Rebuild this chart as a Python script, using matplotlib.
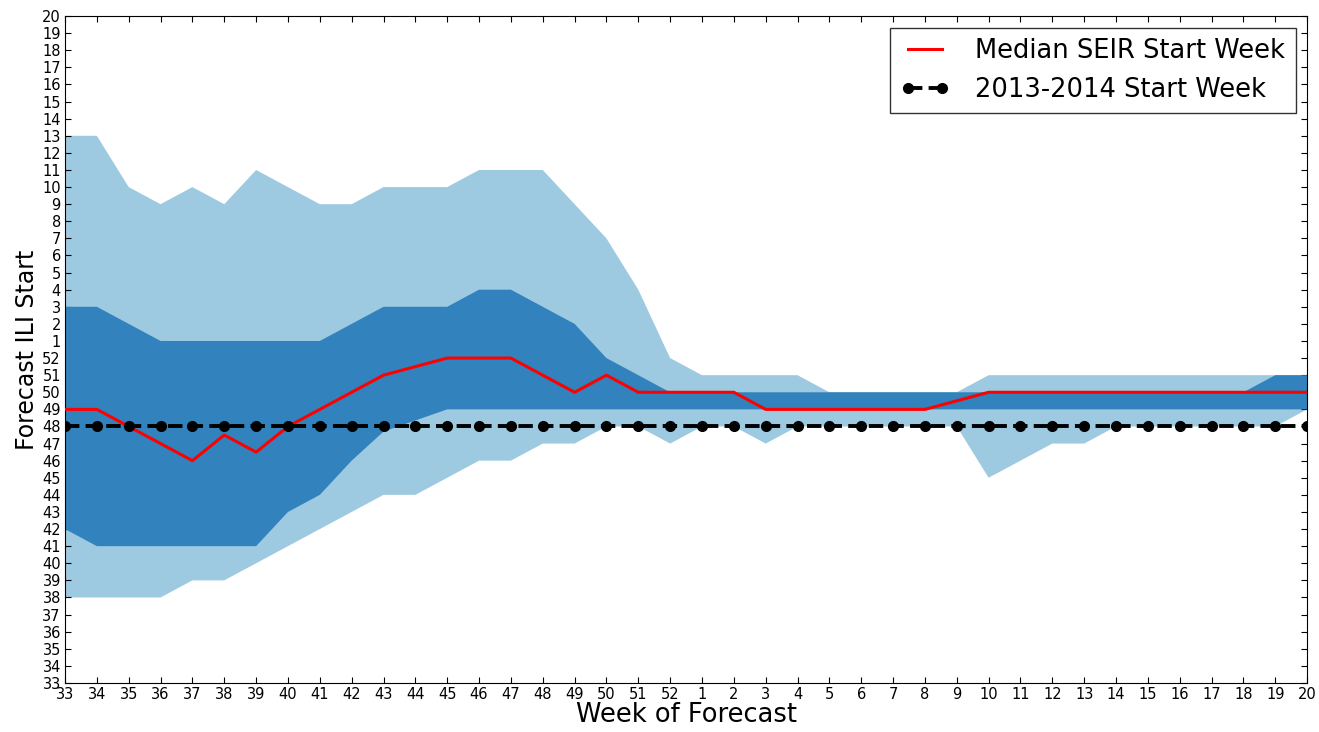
import numpy as np
import matplotlib.pyplot as plt

# forecast weeks across the season (33..52, then 1..20)
weeks = list(range(33, 53)) + list(range(1, 21))

# 95% interval of the forecast start week
outer_hi = [13, 13, 10, 9, 10, 9, 11, 10, 9, 9, 10, 10, 10, 11, 11, 11, 9, 7, 4, 52,
            51, 51, 51, 51, 50, 50, 50, 50, 50, 51, 51, 51, 51, 51, 51, 51, 51, 51, 51, 51]
outer_lo = [38, 38, 38, 38, 39, 39, 40, 41, 42, 43, 44, 44, 45, 46, 46, 47, 47, 48, 48, 47,
            48, 48, 47, 48, 48, 48, 48, 48, 48, 45, 46, 47, 47, 48, 48, 48, 48, 48, 48, 49]

# 50% interval
inner_hi = [3, 3, 2, 1, 1, 1, 1, 1, 1, 2, 3, 3, 3, 4, 4, 3, 2, 52, 51, 50,
            50, 50, 50, 50, 50, 50, 50, 50, 50, 50, 50, 50, 50, 50, 50, 50, 50, 50, 51, 51]
inner_lo = [42, 41, 41, 41, 41, 41, 41, 43, 44, 46, 47.7, 48.35, 49, 49, 49, 49, 49, 49, 49, 49,
            49, 49, 49, 49, 49, 49, 49, 49, 49, 49, 49, 49, 49, 49, 49, 49, 49, 49, 49, 49]

median = [49, 49, 48, 47, 46, 47.5, 46.5, 48, 49, 50, 51, 51.5, 52, 52, 52, 51, 50, 51, 50, 50,
          50, 50, 49, 49, 49, 49, 49, 49, 49.5, 50, 50, 50, 50, 50, 50, 50, 50, 50, 50, 50]

observed_start = [48] * len(weeks)


def season_index(week):
    # weeks 33..52 come first, then 1..20 of the next year
    week = np.asarray(week, dtype=float)
    return np.where(week >= 33, week - 33, week + 19)


x = np.arange(len(weeks))

fig = plt.figure(figsize=(13.19, 7.32), dpi=100)
ax = fig.add_axes([0.0493, 0.067, 0.9417, 0.911])

ax.fill_between(x, season_index(outer_lo), season_index(outer_hi),
                facecolor="#9ecae1", edgecolor="none", zorder=1)
ax.fill_between(x, season_index(inner_lo), season_index(inner_hi),
                facecolor="#3182bd", edgecolor="none", zorder=2)

ax.plot(x, season_index(median), color="r", lw=2.2, zorder=3,
        label="Median SEIR Start Week")
ax.plot(x, season_index(observed_start), "k--o", lw=2.8, ms=7, zorder=4,
        label="2013-2014 Start Week")

ax.set_xlim(0, 39)
ax.set_ylim(0, 39)
ax.set_xticks(x)
ax.set_xticklabels([str(w) for w in weeks], fontsize=10.5)
ax.set_yticks(x)
ax.set_yticklabels([str(w) for w in weeks], fontsize=10.5)
ax.tick_params(direction="in", top=True, right=True, length=4, pad=3)

ax.set_xlabel("Week of Forecast", fontsize=18.5, labelpad=0)
ax.set_ylabel("Forecast ILI Start", fontsize=17, labelpad=2)

leg = ax.legend(loc="upper right", fontsize=18.5, fancybox=False, numpoints=2,
                handlelength=1.9, handletextpad=1.0, borderaxespad=0.45,
                labelspacing=0.5, borderpad=0.4)
leg.get_frame().set_edgecolor("black")
leg.get_frame().set_linewidth(1.0)

fig.savefig("out.png", dpi=100)
